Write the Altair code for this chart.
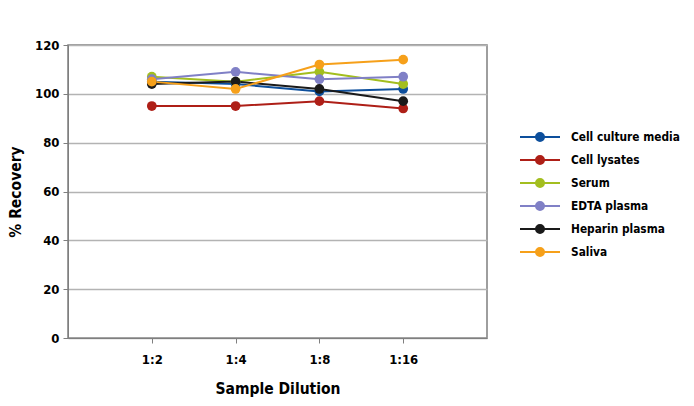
import altair as alt
import pandas as pd

dilutions = ["1:2", "1:4", "1:8", "1:16"]
series = ["Cell culture media", "Cell lysates", "Serum", "EDTA plasma", "Heparin plasma", "Saliva"]
colors = ["#0d4f9c", "#ae1f17", "#a3be1f", "#8080c6", "#1a1a1a", "#f6a01a"]

cell_culture_media = [105, 104, 101, 102]
cell_lysates = [95, 95, 97, 94]
serum = [107, 105, 109, 104]
edta_plasma = [106, 109, 106, 107]
heparin_plasma = [104, 105, 102, 97]
saliva = [105, 102, 112, 114]

values = [cell_culture_media, cell_lysates, serum, edta_plasma, heparin_plasma, saliva]
rows = []
for i, (s, vals) in enumerate(zip(series, values)):
    for j, (d, v) in enumerate(zip(dilutions, vals)):
        rows.append({"Series": s, "Dilution": d, "Recovery": v, "order": i * 10 + j})
df = pd.DataFrame(rows)

FONT = "DejaVu Sans Condensed"
PATH = "M-2,0L2,0M-0.4,0A0.4,0.4,0,1,0,0.4,0A0.4,0.4,0,1,0,-0.4,0"

legend = alt.Legend(
    title=None, orient="none", legendX=461, legendY=81,
    symbolType=PATH, symbolSize=400, symbolStrokeWidth=2, symbolOpacity=1,
    labelOffset=20, rowPadding=4,
    labelFont=FONT, labelFontSize=11.8, labelFontWeight="bold", labelColor="#000000",
)

base = alt.Chart(df).encode(
    x=alt.X("Dilution:N", sort=dilutions,
            scale=alt.Scale(type="point", padding=1),
            axis=alt.Axis(title="Sample Dilution", labelAngle=0, grid=False,
                          tickSize=5, labelPadding=10, titlePadding=15,
                          domainColor="#7f7f7f", tickColor="#7f7f7f",
                          labelFont=FONT, labelFontSize=13, labelFontWeight="bold",
                          labelColor="#000000", titleFont=FONT, titleFontSize=15.5,
                          titleFontWeight="bold", titleColor="#000000")),
    y=alt.Y("Recovery:Q", scale=alt.Scale(domain=[0, 120]),
            axis=alt.Axis(title="% Recovery", values=[0, 20, 40, 60, 80, 100, 120],
                          grid=True, gridColor="#b3b3b3", gridWidth=1.5,
                          tickSize=5, labelPadding=4, titlePadding=11,
                          domainColor="#7f7f7f", tickColor="#7f7f7f",
                          labelFont=FONT, labelFontSize=13, labelFontWeight="bold",
                          labelColor="#000000", titleFont=FONT, titleFontSize=15.5,
                          titleFontWeight="bold", titleColor="#000000")),
    color=alt.Color("Series:N", sort=series,
                    scale=alt.Scale(domain=series, range=colors), legend=legend),
)

lines = base.mark_line(strokeWidth=2).encode(order="order:Q")
points = base.mark_point(filled=True, size=95, opacity=1)

chart = alt.layer(lines, points).properties(
    width=419, height=293,
    autosize=alt.AutoSizeParams(type="none"),
    padding={"left": 60, "top": 37, "right": 199, "bottom": 60},
).configure_view(stroke="#7f7f7f", strokeWidth=1.5)

chart.save("out.html", embed_options={"renderer": "svg", "actions": False})
